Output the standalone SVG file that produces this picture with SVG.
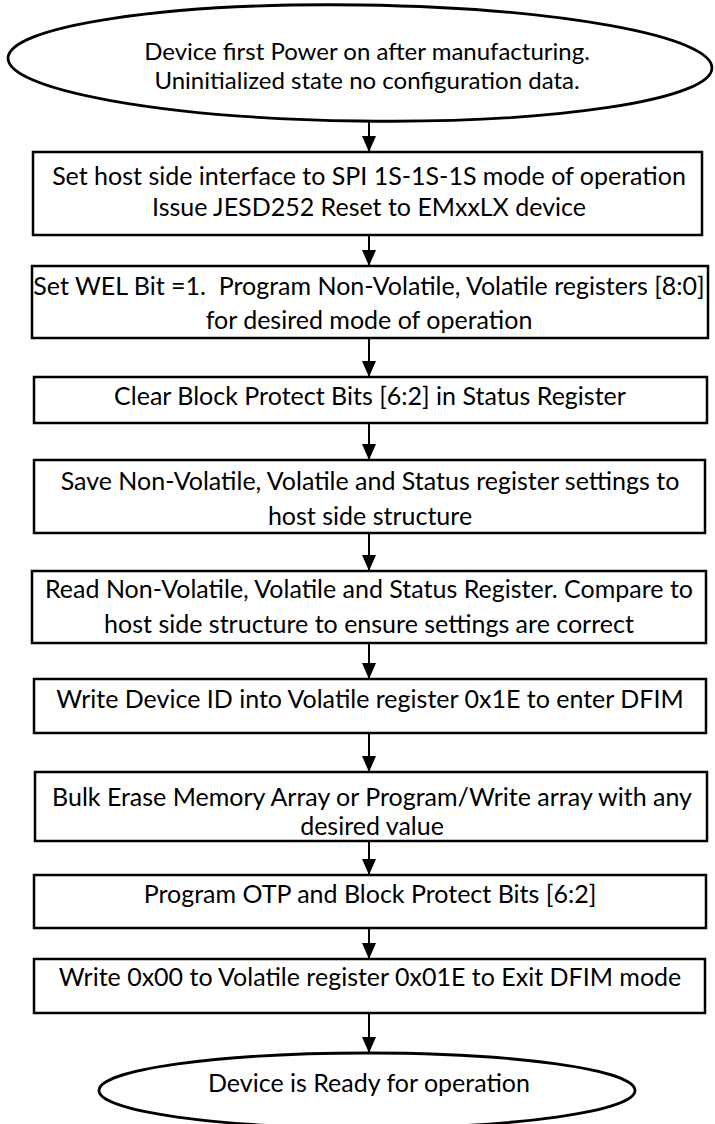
<svg xmlns="http://www.w3.org/2000/svg" width="715" height="1124" viewBox="0 0 715 1124">
  <style>
    .box { fill: #ffffff; stroke: #000000; stroke-width: 2.5; }
    .term { fill: #ffffff; stroke: #000000; stroke-width: 2.8; }
    .lbl { font-family: Lato, "Liberation Sans", sans-serif; font-size: 25px; fill: #000000; text-anchor: middle; }
    .lbl-start { font-size: 24px; }
    .wire { stroke: #000000; stroke-width: 2; fill: none; marker-end: url(#head); }
  </style>
  <defs>
    <marker id="head" markerUnits="userSpaceOnUse" markerWidth="16" markerHeight="14" refX="16" refY="7" orient="auto">
      <path d="M0,0 L16,7 L0,14 Z" fill="#000000"/>
    </marker>
  </defs>
  <rect width="715" height="1124" fill="#ffffff"/>

  <!-- process flow steps -->
  <g id="start">
    <ellipse class="term" cx="360" cy="63" rx="352" ry="58" transform="rotate(0.8 360 63)"/>
    <text class="lbl lbl-start" x="367" y="60">Device first Power on after manufacturing.</text>
    <text class="lbl lbl-start" x="367" y="89">Uninitialized state no configuration data.</text>
  </g>
  <g id="step1">
    <rect class="box" x="33" y="152" width="669" height="83"/>
    <text class="lbl" x="369" y="185">Set host side interface to SPI 1S-1S-1S mode of operation</text>
    <text class="lbl" x="369" y="216">Issue JESD252 Reset to EMxxLX device</text>
  </g>
  <g id="step2">
    <rect class="box" x="32" y="266" width="676" height="72"/>
    <text class="lbl" x="369" y="295" xml:space="preserve">Set WEL Bit =1.  Program Non-Volatile, Volatile registers [8:0]</text>
    <text class="lbl" x="369" y="329">for desired mode of operation</text>
  </g>
  <g id="step3">
    <rect class="box" x="34" y="377" width="673" height="46"/>
    <text class="lbl" x="370" y="405">Clear Block Protect Bits [6:2] in Status Register</text>
  </g>
  <g id="step4">
    <rect class="box" x="34" y="460" width="671" height="73"/>
    <text class="lbl" x="370" y="490">Save Non-Volatile, Volatile and Status register settings to</text>
    <text class="lbl" x="370" y="525">host side structure</text>
  </g>
  <g id="step5">
    <rect class="box" x="32" y="571" width="674" height="72"/>
    <text class="lbl" x="369" y="598">Read Non-Volatile, Volatile and Status Register. Compare to</text>
    <text class="lbl" x="369" y="633">host side structure to ensure settings are correct</text>
  </g>
  <g id="step6">
    <rect class="box" x="34" y="679" width="672" height="54"/>
    <text class="lbl" x="370" y="708">Write Device ID into Volatile register 0x1E to enter DFIM</text>
  </g>
  <g id="step7">
    <rect class="box" x="35" y="772" width="672" height="69"/>
    <text class="lbl" x="372" y="806">Bulk Erase Memory Array or Program/Write array with any</text>
    <text class="lbl" x="372" y="835">desired value</text>
  </g>
  <g id="step8">
    <rect class="box" x="34" y="875" width="672" height="53"/>
    <text class="lbl" x="370" y="903">Program OTP and Block Protect Bits [6:2]</text>
  </g>
  <g id="step9">
    <rect class="box" x="34" y="959" width="671" height="54"/>
    <text class="lbl" x="370" y="986">Write 0x00 to Volatile register 0x01E to Exit DFIM mode</text>
  </g>
  <g id="ready">
    <ellipse class="term" cx="367" cy="1090.5" rx="268" ry="37.5"/>
    <text class="lbl" x="369" y="1092">Device is Ready for operation</text>
  </g>

  <!-- connectors -->
  <g id="connectors">
    <line class="wire" x1="369" y1="121" x2="369" y2="152"/>
    <line class="wire" x1="369" y1="235" x2="369" y2="266"/>
    <line class="wire" x1="369" y1="338" x2="369" y2="377"/>
    <line class="wire" x1="369" y1="423" x2="369" y2="460"/>
    <line class="wire" x1="369" y1="533" x2="369" y2="571"/>
    <line class="wire" x1="369" y1="643" x2="369" y2="679"/>
    <line class="wire" x1="369" y1="733" x2="369" y2="772"/>
    <line class="wire" x1="369" y1="841" x2="369" y2="875"/>
    <line class="wire" x1="369" y1="928" x2="369" y2="959"/>
    <line class="wire" x1="369" y1="1013" x2="369" y2="1053"/>
  </g>
</svg>
